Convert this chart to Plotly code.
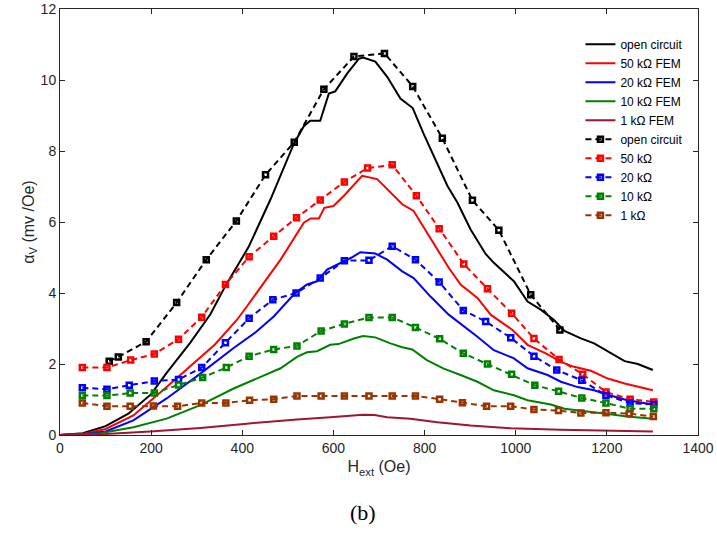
import plotly.graph_objects as go

# FEM curves (solid)
fem_oc_x = [0, 50, 100, 150, 200, 234, 286, 330, 363, 414, 462, 513, 535, 549, 571, 590, 604, 630, 656, 665,
            692, 718, 747, 774, 798, 820, 850, 872, 901, 934, 952, 996, 1026, 1055, 1084, 1107, 1143, 1172,
            1202, 1239, 1268, 1301]
fem_oc_y = [0, 0.05, 0.25, 0.6, 1.15, 1.75, 2.6, 3.4, 4.2, 5.3, 6.64, 8.2, 8.7, 8.85, 8.85, 9.62, 9.68, 10.18,
            10.6, 10.63, 10.52, 10.09, 9.48, 9.21, 8.48, 7.87, 7.02, 6.55, 5.79, 5.1, 4.85, 4.33, 3.76, 3.53,
            3.24, 2.93, 2.72, 2.58, 2.35, 2.08, 2.0, 1.83]

fem_50k_x = [0, 50, 100, 161, 234, 308, 340, 388, 410, 484, 535, 550, 568, 580, 600, 623, 645, 663, 696, 725,
             751, 776, 800, 828, 853, 879, 916, 945, 993, 1026, 1066, 1099, 1128, 1165, 1202, 1239, 1301]
fem_50k_y = [0, 0.03, 0.17, 0.55, 1.35, 2.2, 2.55, 3.24, 3.62, 4.94, 5.98, 6.1, 6.1, 6.4, 6.45, 6.74, 7.05,
             7.3, 7.21, 6.83, 6.5, 6.31, 5.8, 5.23, 4.71, 4.24, 3.86, 3.39, 2.96, 2.54, 2.30, 2.06, 1.92,
             1.81, 1.59, 1.45, 1.26]

fem_20k_x = [0, 50, 100, 161, 234, 308, 381, 430, 469, 516, 542, 564, 586, 608, 640, 659, 680, 692, 718, 751,
             776, 813, 853, 883, 916, 952, 996, 1026, 1070, 1099, 1136, 1172, 1198, 1245, 1301]
fem_20k_y = [0, 0.02, 0.1, 0.41, 1.03, 1.73, 2.45, 2.9, 3.34, 4.0, 4.24, 4.33, 4.66, 4.8, 5.0, 5.15, 5.13,
             5.11, 4.94, 4.61, 4.42, 3.90, 3.39, 3.10, 2.77, 2.39, 2.16, 1.88, 1.69, 1.50, 1.35, 1.26, 1.15,
             0.98, 0.86]

fem_10k_x = [0, 50, 88, 161, 234, 308, 381, 484, 520, 542, 564, 593, 611, 645, 665, 692, 725, 751, 773, 805,
             842, 879, 916, 952, 996, 1026, 1077, 1107, 1158, 1198, 1245, 1301]
fem_10k_y = [0, 0.02, 0.05, 0.22, 0.46, 0.84, 1.31, 1.88, 2.2, 2.33, 2.36, 2.54, 2.56, 2.72, 2.79, 2.75,
             2.58, 2.47, 2.41, 2.11, 1.87, 1.69, 1.50, 1.26, 1.12, 0.98, 0.86, 0.74, 0.67, 0.60, 0.52, 0.46]

fem_1k_x = [0, 100, 198, 308, 410, 484, 520, 593, 640, 665, 690, 718, 769, 828, 901, 989, 1099, 1202, 1301]
fem_1k_y = [0, 0.03, 0.1, 0.2, 0.32, 0.41, 0.44, 0.5, 0.55, 0.57, 0.56, 0.5, 0.46, 0.36, 0.27, 0.19, 0.15,
            0.13, 0.10]

# measured (dashed + markers)
exp_oc_x = [108, 128, 189, 256, 321, 387, 451, 514, 579, 645, 712, 774, 839, 905, 963, 1033, 1097]
exp_oc_y = [2.08, 2.2, 2.63, 3.73, 4.94, 6.03, 7.33, 8.25, 9.74, 10.66, 10.75, 9.82, 8.36, 6.61, 5.77,
            3.95, 2.96]

exp_50k_x = [49, 103, 155, 207, 260, 311, 363, 415, 469, 519, 571, 624, 675, 729, 782, 832, 886, 938, 991,
             1040, 1095, 1147, 1198, 1251, 1303]
exp_50k_y = [1.90, 1.90, 2.11, 2.28, 2.70, 3.32, 4.24, 5.02, 5.60, 6.12, 6.62, 7.13, 7.52, 7.61, 6.74, 5.81,
             4.82, 4.12, 3.43, 2.72, 2.13, 1.71, 1.21, 1.01, 0.93]

exp_20k_x = [49, 103, 152, 207, 260, 311, 363, 415, 467, 518, 571, 624, 678, 729, 780, 832, 885, 934, 989,
             1040, 1090, 1145, 1198, 1251, 1303]
exp_20k_y = [1.33, 1.29, 1.40, 1.52, 1.56, 1.90, 2.60, 3.29, 3.81, 4.0, 4.42, 4.91, 4.92, 5.32, 4.94, 4.31,
             3.51, 3.20, 2.74, 2.22, 1.83, 1.54, 1.12, 0.90, 0.86]

exp_10k_x = [49, 103, 154, 207, 260, 313, 365, 415, 469, 520, 573, 624, 678, 729, 780, 833, 885, 938, 991,
             1042, 1094, 1145, 1198, 1251, 1303]
exp_10k_y = [1.11, 1.11, 1.18, 1.18, 1.41, 1.62, 1.90, 2.22, 2.41, 2.51, 2.93, 3.13, 3.31, 3.31, 3.03, 2.71,
             2.30, 2.0, 1.71, 1.40, 1.23, 1.04, 0.90, 0.74, 0.74]

exp_1k_x = [49, 103, 154, 205, 258, 311, 364, 416, 469, 520, 573, 624, 678, 729, 780, 833, 883, 936, 989,
            1040, 1094, 1143, 1198, 1249, 1302]
exp_1k_y = [0.90, 0.81, 0.81, 0.82, 0.81, 0.90, 0.90, 0.98, 1.01, 1.10, 1.10, 1.10, 1.10, 1.10, 1.10, 1.01,
            0.91, 0.81, 0.81, 0.72, 0.69, 0.62, 0.63, 0.60, 0.52]

C = {"oc": "#000000", "50k": "#ff0000", "20k": "#0000ff", "10k": "#008000",
     "1kfem": "#a2142f", "1k": "#993300"}

fem = [
    (fem_oc_x, fem_oc_y, "open circuit", C["oc"]),
    (fem_50k_x, fem_50k_y, "50 kΩ FEM", C["50k"]),
    (fem_20k_x, fem_20k_y, "20 kΩ FEM", C["20k"]),
    (fem_10k_x, fem_10k_y, "10 kΩ FEM", C["10k"]),
    (fem_1k_x, fem_1k_y, "1 kΩ FEM", C["1kfem"]),
]
meas = [
    (exp_oc_x, exp_oc_y, "open circuit", C["oc"]),
    (exp_50k_x, exp_50k_y, "50 kΩ", C["50k"]),
    (exp_20k_x, exp_20k_y, "20 kΩ", C["20k"]),
    (exp_10k_x, exp_10k_y, "10 kΩ", C["10k"]),
    (exp_1k_x, exp_1k_y, "1 kΩ", C["1k"]),
]

fig = go.Figure()
for x, y, name, col in fem:
    fig.add_trace(go.Scatter(x=x, y=y, mode="lines", name=name,
                             line=dict(color=col, width=2)))
for x, y, name, col in meas:
    fig.add_trace(go.Scatter(x=x, y=y, mode="lines+markers", name=name,
                             line=dict(color=col, width=2, dash="6px,4px"),
                             marker=dict(symbol="square-open", size=5, color=col,
                                         line=dict(color=col, width=2.5))))

axis_common = dict(showgrid=False, zeroline=False, showline=True, linecolor="#262626", linewidth=1,
                   mirror="ticks", ticks="inside", ticklen=5, tickcolor="#262626", automargin=False,
                   tickfont=dict(family="Liberation Sans, Arial", size=14, color="#262626"))

fig.update_layout(
    width=717, height=533,
    margin=dict(l=60, r=19, t=9, b=98, autoexpand=False),
    plot_bgcolor="white", paper_bgcolor="white",
    font=dict(family="Liberation Sans, Arial", color="#262626"),
    xaxis=dict(range=[0, 1400], dtick=200, **axis_common,
               title=dict(text="H<sub>ext</sub> (Oe)", font=dict(size=16), standoff=6)),
    yaxis=dict(range=[0, 12], dtick=2, **axis_common,
               title=dict(text="α<sub>V</sub> (mv /Oe)", font=dict(size=16), standoff=2)),
    legend=dict(x=0.985, y=0.951, xanchor="right", yanchor="top", bgcolor="rgba(0,0,0,0)",
                font=dict(size=12, color="#000000"), tracegroupgap=0),
    showlegend=True,
)

fig.add_annotation(text="(b)", xref="paper", yref="paper", x=0.475, y=-0.183,
                   showarrow=False, yanchor="middle",
                   font=dict(family="Liberation Serif, Times New Roman", size=22, color="#000000"))

fig.write_html("out.html", config={"displayModeBar": False},
               post_script="document.body.style.margin='0';")
